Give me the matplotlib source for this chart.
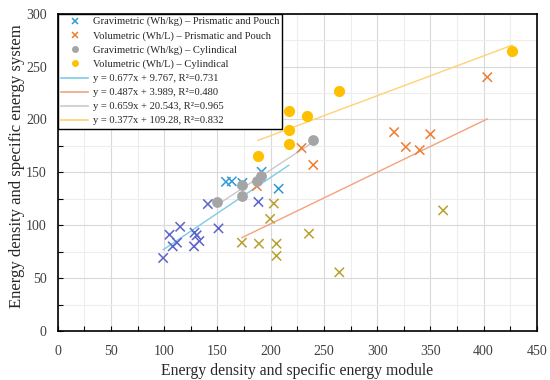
import matplotlib
matplotlib.use("Agg")
import matplotlib.pyplot as plt
from matplotlib.lines import Line2D
from matplotlib.ticker import MultipleLocator
import numpy as np

# ---- data ----
grav_pp_x = [99, 105, 108, 112, 115, 128, 128.5, 130.5, 133, 141, 151, 158, 163.5, 173.5, 188.5, 191.5, 207.5]
grav_pp_y = [69, 91, 80, 83.5, 98.5, 80, 93, 90.5, 85, 120, 97, 141, 141.5, 140, 122, 150.5, 134.5]

vol_pp_x = [187, 229, 240, 316, 327, 340, 350, 403.5, 173, 189, 199.5, 203, 205.5, 205.5, 236, 264.5, 362]
vol_pp_y = [137, 173, 157, 188, 174, 171, 186, 240, 83.5, 82.5, 106, 120.5, 82.5, 71, 92, 55.5, 114]

grav_cyl_x = [150, 173, 173, 187, 191, 240]
grav_cyl_y = [122, 138, 128, 142, 146.5, 181]

vol_cyl_x = [188, 217, 217, 217, 234.5, 264, 427]
vol_cyl_y = [165, 208, 190, 176.5, 203.5, 227, 264.5]

series_labels = ["Gravimetric (Wh/kg) \u2013 Prismatic and Pouch",
                 "Volumetric (Wh/L) \u2013 Prismatic and Pouch",
                 "Gravimetric (Wh/kg) \u2013 Cylindical",
                 "Volumetric (Wh/L) \u2013 Cylindical"]

trend_slope = [0.677, 0.487, 0.659, 0.377]
trend_icpt = [9.767, 3.989, 20.543, 109.28]
trend_r2 = ["0.731", "0.480", "0.965", "0.832"]
trend_icpt_txt = ["9.767", "3.989", "20.543", "109.28"]
trend_xmin = [99, 173, 150, 188]
trend_xmax = [217, 403.5, 240, 427]

# ---- style ----
c_blue = "#2E9BD6"
c_orange = "#ED7D31"
c_gray = "#A5A5A5"
c_gold = "#FFC000"
c_purple = "#5B64C8"
c_olive = "#B8A030"
trend_colors = ["#7CCBEA", "#F4A27E", "#C9C9C9", "#FFD272"]

grav_pp_c = [c_purple] * 11 + [c_blue, c_blue, c_blue, c_purple, c_blue, c_blue]
vol_pp_c = [c_orange] * 8 + [c_olive] * 9

plt.rcParams['font.family'] = ['Liberation Serif', 'DejaVu Serif']

fig = plt.figure(figsize=(5.5, 3.8), dpi=100)
ax = fig.add_axes([0.105, 0.129, 0.871, 0.835])

ax.set_xlim(0, 450)
ax.set_ylim(0, 300)
ax.xaxis.set_major_locator(MultipleLocator(50))
ax.xaxis.set_minor_locator(MultipleLocator(25))
ax.yaxis.set_major_locator(MultipleLocator(50))
ax.yaxis.set_minor_locator(MultipleLocator(25))
ax.grid(which='major', color='#D9D9D9', linewidth=0.8, zorder=0)
ax.grid(which='minor', color='#EDEDED', linewidth=0.8, zorder=0)
ax.set_axisbelow(True)

ax.tick_params(which='both', direction='in', length=3.5, width=0.8, colors='black',
               labelcolor='#404040', labelsize=10, top=False, right=False)
ax.tick_params(axis='x', which='major', pad=10)
ax.tick_params(axis='y', which='major', pad=8)
for s in ax.spines.values():
    s.set_linewidth(1.2)
    s.set_color('black')

# trendlines
for i in range(4):
    xs = np.array([trend_xmin[i], trend_xmax[i]])
    ax.plot(xs, trend_slope[i] * xs + trend_icpt[i], color=trend_colors[i], lw=1.0, zorder=2)

ax.scatter(grav_pp_x, grav_pp_y, marker='x', s=45, c=grav_pp_c, linewidths=1.1, zorder=3)
ax.scatter(vol_pp_x, vol_pp_y, marker='x', s=45, c=vol_pp_c, linewidths=1.1, zorder=3)
ax.scatter(grav_cyl_x, grav_cyl_y, marker='o', s=60, c=c_gray, linewidths=0, zorder=4)
ax.scatter(vol_cyl_x, vol_cyl_y, marker='o', s=65, c=c_gold, linewidths=0, zorder=4)

handles = [
    Line2D([], [], ls='none', marker='x', color=c_blue, ms=5, mew=1.1),
    Line2D([], [], ls='none', marker='x', color=c_orange, ms=5, mew=1.1),
    Line2D([], [], ls='none', marker='o', color=c_gray, ms=5, mew=0),
    Line2D([], [], ls='none', marker='o', color=c_gold, ms=5, mew=0),
]
labels = list(series_labels)
for i in range(4):
    handles.append(Line2D([], [], color=trend_colors[i], lw=1.2))
    labels.append("y = %.3fx + %s, R\u00b2=%s" % (trend_slope[i], trend_icpt_txt[i], trend_r2[i]))

leg = ax.legend(handles, labels, loc='upper left', bbox_to_anchor=(0, 1), borderaxespad=0,
                fontsize=7.6, frameon=True, fancybox=False, edgecolor='black',
                framealpha=1, handlelength=2.6, handletextpad=0.4, labelspacing=0.44,
                borderpad=0.3)
leg.get_frame().set_linewidth(1.0)
for t in leg.get_texts():
    t.set_color('#262626')

ax.set_xlabel("Energy density and specific energy module", fontsize=11.3, color='#262626', labelpad=4)
ax.set_ylabel("Energy density and specific energy system", fontsize=12, color='#262626', labelpad=2)
ax.yaxis.set_label_coords(-0.068, 0.52)

fig.savefig("out.png", dpi=100)
